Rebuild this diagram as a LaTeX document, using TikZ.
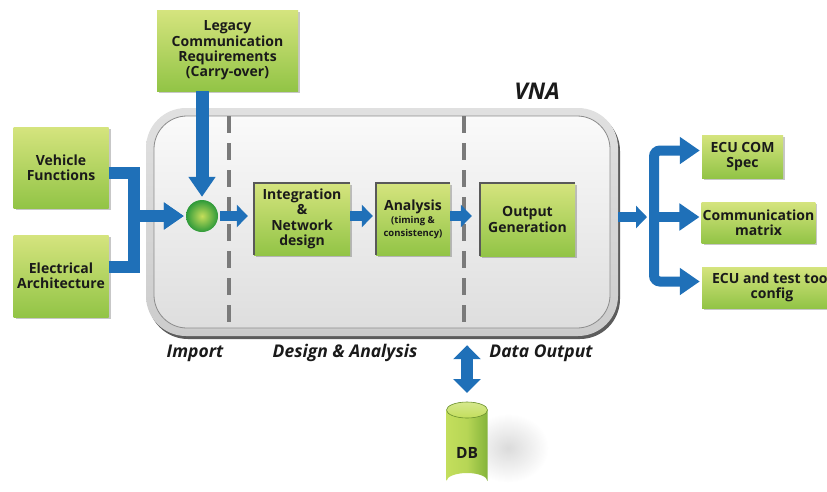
\documentclass[tikz,border=0pt]{standalone}
\usepackage{fontspec}
\setmainfont{Open Sans}
\usetikzlibrary{arrows.meta,shadows,shapes.geometric,calc}
\definecolor{gtop}{HTML}{D5E47E}
\definecolor{gbot}{HTML}{92C446}
\definecolor{blu}{HTML}{1F70B8}
\definecolor{txt}{HTML}{1A1A1A}
\definecolor{dashc}{HTML}{7A7A7A}
\definecolor{ballin}{HTML}{C5DE5A}
\definecolor{ballout}{HTML}{2E9A3A}
\definecolor{dbl}{HTML}{C3DE5C}
\definecolor{dbd}{HTML}{84B43A}
\begin{document}
\begin{tikzpicture}[x=1pt,y=-1pt,
  gbox/.style={rectangle, top color=gtop, bottom color=gbot, align=center,
    font=\bfseries\fontsize{14}{15.4}\selectfont, text=txt, inner sep=1pt,
    drop shadow={shadow xshift=2pt, shadow yshift=-2pt, fill=black, opacity=0.22}},
  ibox/.style={gbox, font=\bfseries\fontsize{14}{15.5}\selectfont},
  bigarrow/.style={draw=blu, line width=12pt, line join=miter,
    -{Triangle[width=26pt,length=20pt]}},
  smallarrow/.style={draw=blu, line width=10pt, -{Triangle[width=22pt,length=11pt]}},
  branch/.style={draw=blu, line width=10pt, rounded corners=6pt,
    -{Triangle[width=26pt,length=20pt]}},
  dbarrow/.style={draw=blu, line width=12pt,
    {Triangle[width=27pt,length=14pt]}-{Triangle[width=27pt,length=14pt]}},
  dashline/.style={draw=dashc, line width=4pt, dash pattern=on 17pt off 10pt},
  lbl/.style={font=\bfseries\itshape\fontsize{17.5}{20}\selectfont, text=txt}
]
\clip (0,0) rectangle (827,491);
\fill[white] (0,0) rectangle (827,491);

% main frame
\node[minimum width=472pt, minimum height=228pt, rounded corners=40pt,
  top color=black!12, bottom color=black!20,
  drop shadow={shadow xshift=2pt, shadow yshift=-3pt, fill=black!75, opacity=0.85}]
  (vna) at (382,222) {};
\node[minimum width=456pt, minimum height=212pt, rounded corners=33pt,
  top color=black!2, bottom color=black!13, draw=black!45, line width=0.8pt]
  (vnain) at (382,222) {};
\node[font=\bfseries\itshape\fontsize{23}{26}\selectfont, text=txt] (vnalbl) at (537,91) {VNA};

% dashed separators
\draw[dashline] (229,116) -- (229,326);
\draw[dashline] (464,116) -- (464,326);

% input boxes
\node[gbox, minimum width=141pt, minimum height=81pt] (legacy) at (227.5,50.5)
  {Legacy\\Communication\\Requirements\\(Carry-over)};
\node[gbox, minimum width=95pt, minimum height=81pt] (vf) at (61,167.5)
  {Vehicle\\Functions};
\node[gbox, minimum width=95pt, minimum height=82pt] (ea) at (61,276)
  {Electrical\\Architecture};

% junction ball
\node[circle, minimum size=32pt, inner sep=0pt, inner color=ballin, outer color=ballout] (circ) at (202,216) {};

% inner process boxes
\node[ibox, minimum width=96pt, minimum height=72pt] (integ) at (302,219)
  {Integration\\\&\\Network\\design};
\node[ibox, minimum width=74pt, minimum height=72pt] (anal) at (413,219)
  {Analysis\\[-2pt]{\fontsize{9.5}{11}\selectfont (timing \&}\\[-3pt]{\fontsize{9.5}{11}\selectfont consistency)}};
\node[ibox, minimum width=95pt, minimum height=73pt] (outg) at (527.5,219.5)
  {Output\\Generation};
\foreach \n in {integ,anal,outg}{
  \draw[black!65, line width=1.5pt] (\n.south west) -- (\n.north west) -- (\n.north east);
}

% output boxes
\node[gbox, minimum width=81pt, minimum height=43pt] (ecu) at (742.5,156.5)
  {ECU COM\\Spec};
\node[gbox, minimum width=113pt, minimum height=41pt] (cm) at (758.5,222.5)
  {Communication\\matrix};
\node[gbox, minimum width=140pt, minimum height=41pt] (etc) at (772,287.5)
  {ECU and test tool\\config};

% phase labels
\node[lbl] (limport) at (195,353) {Import};
\node[lbl] (ldesign) at (345,353) {Design \& Analysis};
\node[lbl] (ldata) at (541,353) {Data Output};

% DB cylinder
\shade[opacity=0.35, inner color=black!40, outer color=white] (508,448) ellipse (40pt and 34pt);
\shade[left color=dbl, right color=dbd, middle color=dbl!80!dbd]
  (446.5,410) -- (446.5,481) arc (180:0:20.5pt and 8pt) -- (487.5,410) -- cycle;
\shade[top color=dbl!70!white, bottom color=dbl, draw=dbd!80!black, line width=0.6pt]
  (467,410) ellipse (20.5pt and 8pt);
\node[font=\bfseries\fontsize{15.5}{17}\selectfont, text=txt] (db) at (467,453) {DB};
\coordinate (dbtop) at (467,400);

% connectors
\coordinate (j) at (134,216);
\draw[bigarrow, shorten >=2pt] ([yshift=-5pt]vf.east) -| (j) -- (circ.west);
\draw[bigarrow, shorten >=2pt] ([yshift=9pt]ea.east) -| (j) -- (circ.west);
\draw[bigarrow, line width=13pt, shorten >=3pt] (circ.north |- legacy.south) -- (circ.north);
\draw[smallarrow, shorten <=2pt, shorten >=6pt] (circ.east) -- (circ.east -| integ.west);
\draw[smallarrow, shorten >=3pt] (integ.east |- circ.east) -- (anal.west |- circ.east);
\draw[smallarrow, shorten >=8pt] (anal.east |- circ.east) -- (outg.west |- circ.east);
\coordinate (split) at (654,217);
\draw[smallarrow, shorten <=43pt, shorten >=7pt] (outg.east |- split) -- (split);
\draw[branch, shorten >=2pt] (split) |- ([yshift=6pt]ecu.west);
\draw[branch, shorten >=2pt] (split) -- (cm.west |- split);
\draw[branch, shorten >=2pt] (split) |- ([yshift=6pt]etc.west);
\draw[dbarrow, shorten <=9pt, shorten >=7pt] (vna.south -| dbtop) -- (dbtop);
\end{tikzpicture}
\end{document}
